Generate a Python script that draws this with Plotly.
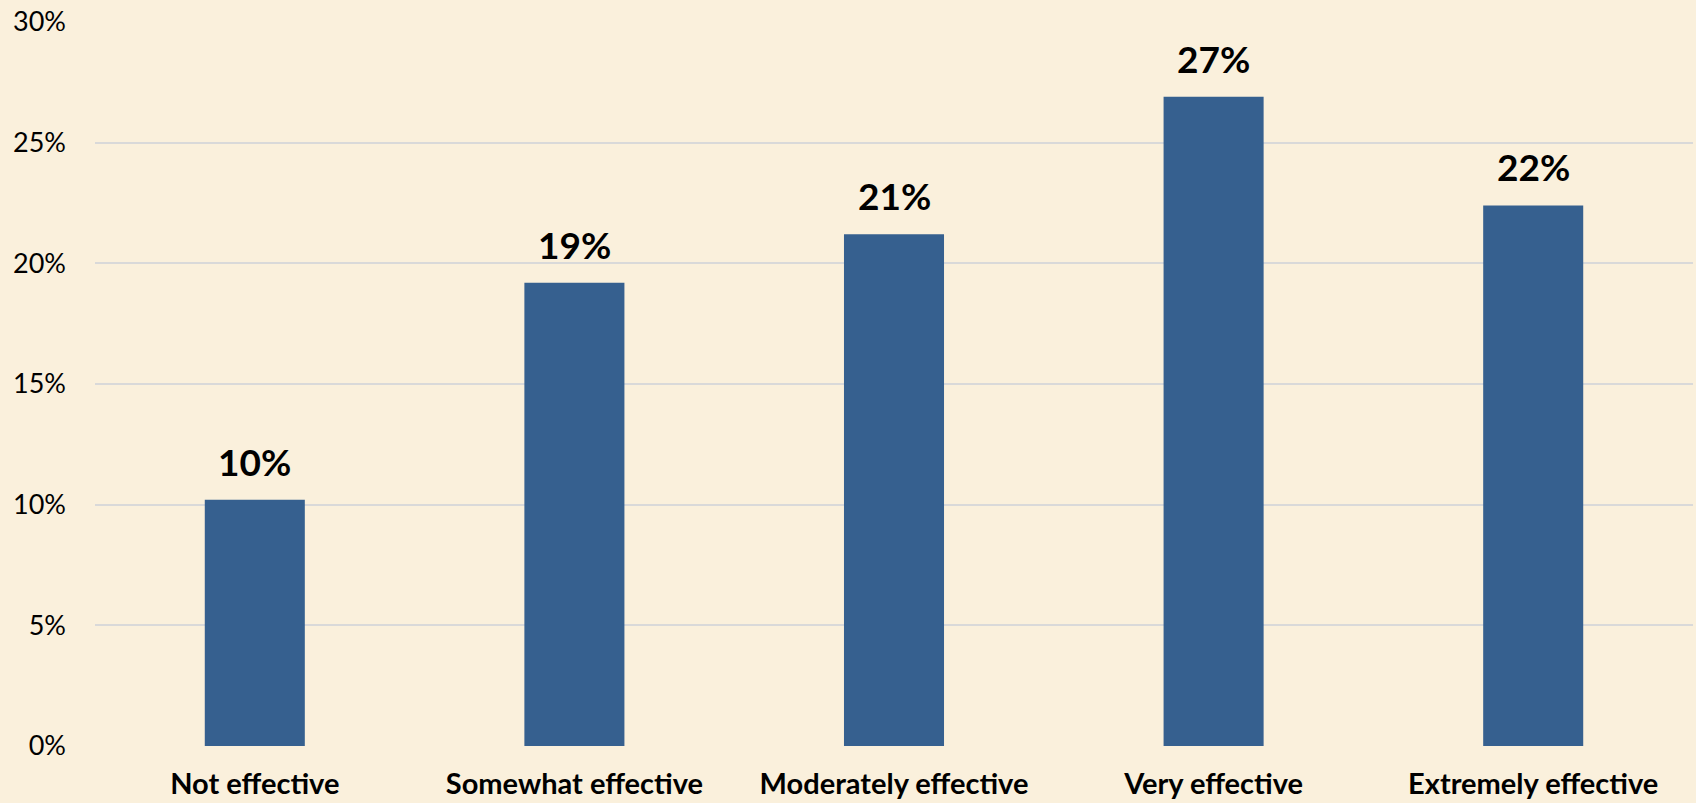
import plotly.graph_objects as go

categories = ["Not effective", "Somewhat effective", "Moderately effective", "Very effective", "Extremely effective"]
values = [10.2, 19.2, 21.2, 26.9, 22.4]
labels = ["10%", "19%", "21%", "27%", "22%"]
tick_vals = [0, 5, 10, 15, 20, 25, 30]
tick_text = ["0%", "5%", "10%", "15%", "20%", "25%", "30%"]

BG = "#FAF0DC"
BAR = "#36608F"
FONT = "Lato"

fig = go.Figure()
fig.add_trace(go.Bar(x=categories, y=values, marker=dict(color=BAR, line=dict(width=0)),
                     hoverinfo="skip"))

for c, v, t in zip(categories, values, labels):
    fig.add_annotation(x=c, y=v, text="<b>%s</b>" % t, showarrow=False,
                       yanchor="bottom", yshift=14,
                       font=dict(family=FONT, size=37, color="black"))

fig.update_layout(
    width=1696, height=803,
    paper_bgcolor=BG, plot_bgcolor=BG,
    margin=dict(l=95, r=3, t=22, b=57),
    bargap=0.687,
    showlegend=False,
    font=dict(family=FONT, color="black"),
)
fig.update_yaxes(range=[0, 30], tickvals=tick_vals, ticktext=tick_text,
                 showgrid=True, gridcolor="#D9D9D9", gridwidth=1.5,
                 zeroline=False, showline=False, ticks="", automargin=False,
                 tickfont=dict(family=FONT, size=27, color="black"),
                 ticklabelstandoff=28)
fig.update_xaxes(showgrid=False, showline=False, ticks="", automargin=False,
                 tickfont=dict(family=FONT, size=29, color="black"),
                 tickvals=categories, ticktext=["<b>%s</b>" % c for c in categories],
                 ticklabelstandoff=18)

fig.write_html("out.html")
